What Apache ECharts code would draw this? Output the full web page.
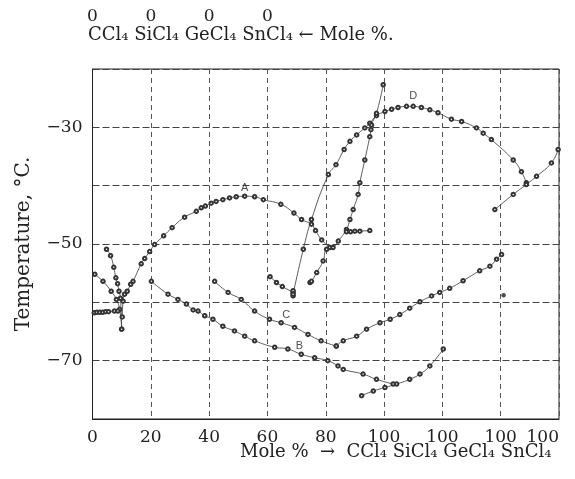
<!DOCTYPE html>
<html>
<head>
<meta charset="utf-8">
<script src="https://cdn.jsdelivr.net/npm/echarts@6/dist/echarts.min.js"></script>
<style>
  html, body { margin: 0; padding: 0; background: #fff; }
  #chart { width: 575px; height: 479px; }
</style>
</head>
<body>
<div id="chart"></div>
<script>
// tick labels
var bottomLabels = ['0', '20', '40', '60', '80', '100', '100', '100', '100']
var topLabels = ['0', '0', '0', '0']
var yTickValues = [-30, -50, -70]
var yTickText = ['\u221230', '\u221250', '\u221270']

// freezing point curves, [x, temperature]
var leftFilled = [[0.8, -55.2], [3.6, -56.4], [6.4, -58.1], [8.2, -59.5], [9.3, -61.2], [10, -64.6]]
var leftOpen = [[4.8, -50.9], [6.2, -52], [7.3, -54], [8, -55.8], [8.6, -56.8], [9.1, -58.1], [9.6, -59.3], [10, -64.6]]
var leftFlat = [[0.6, -61.8], [1.5, -61.7], [2.5, -61.7], [3.5, -61.7], [4.5, -61.6], [5.5, -61.6], [7.5, -61.5], [8.7, -61.5]]
var curveA = [[10.2, -62.5], [10.5, -59.8], [11, -58.6], [11.9, -58.1], [13.1, -56.9], [13.9, -56.4], [16.7, -53.4],
  [17.9, -52.5], [19.6, -51.3], [21.3, -50.1], [24.4, -48.6], [27.3, -47.2], [31.6, -45.4],
  [35.6, -44.4], [37.3, -43.8], [38.7, -43.5], [40.7, -43.0], [42.4, -42.7], [44.7, -42.4], [47.0, -42.1],
  [49.3, -41.9], [52.2, -41.8], [55.6, -41.9], [58.6, -42.4], [64.6, -43.2], [69.1, -44.7], [71.7, -45.8],
  [75.1, -46.6], [76.5, -47.7], [78.6, -49.3], [81.4, -50.6]]
var curveB = [[20.2, -56.4], [25.9, -58.6], [29.3, -59.5], [32.2, -60.3], [34.5, -61.3], [36.2, -61.5], [38.5, -62.3],
  [41.3, -62.9], [44.7, -64.1], [48.7, -64.9], [52.2, -65.8], [55.6, -66.6], [62.5, -67.7], [67, -68],
  [71.6, -68.9], [76.2, -69.5], [80.7, -70.0], [84.2, -70.9], [86, -71.5], [92.8, -72.3], [97.4, -73.2], [103.1, -74.0]]
var curveC = [[41.9, -56.4], [46.5, -58.3], [51, -59.5], [55.6, -61.5], [60.7, -62.9], [64.7, -63.5], [69.3, -64.3],
  [73.9, -65.5], [78.4, -66.6], [83.6, -67.5]]
var riseC = [[83.6, -67.5], [86, -66.6], [90.6, -65.8], [94, -64.6], [98.6, -63.5], [102.1, -62.9], [105.4, -62.1],
  [108.8, -61], [112.3, -59.9], [116.3, -58.9], [119.1, -58.3], [122.5, -57.6], [127.1, -56.3], [132.8, -54.6],
  [136.3, -53.8], [138.6, -52.6], [140.3, -51.8]]
var preD = [[60.9, -55.6], [63.1, -56.6], [65.1, -57.3], [68.8, -58.3], [68.8, -58.0], [68.8, -58.9]]
var curveD = [[68.8, -58.6], [72.3, -50.9], [75.1, -45.8], [80.9, -38.1], [83.5, -36.4], [86.3, -33.8], [88.3, -32.4], [90.6, -31.3],
  [93.4, -30.1], [95.1, -29.3], [97.4, -28], [100.3, -27.3], [102.6, -26.9], [104.8, -26.6], [107.7, -26.4],
  [110, -26.4], [112.8, -26.6], [115.7, -27], [118.5, -27.5], [123.1, -28.6], [126.6, -29.0], [131.7, -30.1],
  [134, -31], [136.8, -32.1], [144.3, -35.6], [147.1, -37.6], [148.8, -39.5]]
var steep = [[74.6, -56.6], [75.1, -56.4], [76.9, -54.9], [79.1, -52.9], [80.3, -50.9], [82.5, -50.6], [84.3, -49.5],
  [87.1, -47.5], [88.3, -45.8], [89.4, -44.1], [91.1, -41.5], [91.7, -39.5], [93.4, -35.6], [95.1, -31.6],
  [95.5, -30.4], [95.7, -29.6], [97.4, -27.6], [99.7, -22.7]]
var midFlat = [[87.1, -47.9], [88.5, -47.9], [90, -47.8], [91.7, -47.8], [95.1, -47.7]]
var rightRise = [[138, -44.1], [144.3, -41.5], [148.8, -39.8], [152.3, -38.4], [157.4, -36.1], [159.7, -33.8]]
var lowRise = [[92.3, -76], [96.3, -75.2], [100.3, -74.6], [104.3, -74], [108.8, -73.2], [112.3, -72.3], [115.7, -70.9], [120.3, -68]]
var filledPts = [[0.8, -55.2], [3.6, -56.4], [0.6, -61.8], [4.8, -50.9], [6.2, -52], [11, -58.6], [13.1, -56.9],
  [31.6, -45.4], [52.2, -41.8], [90.6, -31.3], [91.7, -39.5], [38.5, -62.3], [108.8, -73.2], [141, -58.8]]
var curveNames = ['A', 'B', 'C', 'D']
var namePos = [[52.2, -40.4], [71, -67.4], [66.4, -62.2], [110, -24.6]]

var ink = '#222'
var serif = 'DejaVu Serif'

function lineSeries(data, smooth) {
  return {
    type: 'line',
    data: data,
    smooth: smooth,
    symbol: 'emptyCircle',
    symbolSize: 3.5,
    showSymbol: true,
    lineStyle: { color: '#333', width: 0.8 },
    itemStyle: { color: '#333', borderColor: '#333', borderWidth: 0.9 },
    silent: true,
    animation: false
  }
}

var chart = echarts.init(document.getElementById('chart'), null, { renderer: 'canvas' })
var option = {
  backgroundColor: '#fff',
  grid: {
    left: 92.5, right: 16, top: 69, bottom: 60, outerBoundsMode: 'none',
    show: true, borderColor: ink, borderWidth: 1
  },
  xAxis: [
    {
      type: 'value', min: 0, max: 160, interval: 20,
      axisLine: { show: true, lineStyle: { color: ink } },
      axisTick: { show: false },
      splitLine: { show: true, lineStyle: { color: '#555', type: [5, 4], width: 1 } },
      axisLabel: {
        margin: 10, color: ink, fontFamily: serif, fontSize: 17, alignMaxLabel: 'right',
        formatter: function (v) { return bottomLabels[Math.round(v / 20)] }
      },
      name: 'Mole %  \u2192  CCl\u2084 SiCl\u2084 GeCl\u2084 SnCl\u2084',
      nameLocation: 'middle', nameGap: 24, nameMoveOverlap: false,
      nameTextStyle: { color: ink, fontFamily: serif, fontSize: 18, padding: [0, 0, 0, 140] }
    },
    {
      type: 'value', min: 0, max: 160, interval: 20, position: 'top',
      axisLine: { show: false }, axisTick: { show: false }, splitLine: { show: false },
      axisLabel: {
        margin: 44, color: ink, fontFamily: serif, fontSize: 17,
        formatter: function (v) { return topLabels[Math.round(v / 20)] || '' }
      },
      name: 'CCl\u2084 SiCl\u2084 GeCl\u2084 SnCl\u2084 \u2190 Mole %.',
      nameLocation: 'middle', nameGap: 25, nameMoveOverlap: false,
      nameTextStyle: { color: ink, fontFamily: serif, fontSize: 18, padding: [0, 170, 0, 0] }
    }
  ],
  yAxis: {
    type: 'value', min: -80, max: -20, interval: 10,
    axisLine: { show: true, lineStyle: { color: ink } },
    axisTick: { show: false },
    splitLine: { show: true, lineStyle: { color: '#444', type: [7, 3], width: 1 } },
    axisLabel: {
      margin: 10, color: ink, fontFamily: serif, fontSize: 17,
      formatter: function (v) {
        var i = yTickValues.indexOf(v)
        return i < 0 ? '' : yTickText[i]
      }
    },
    name: 'Temperature, \u00b0C.',
    nameLocation: 'middle', nameGap: 59, nameMoveOverlap: false,
    nameTextStyle: { color: ink, fontFamily: serif, fontSize: 20 }
  },
  series: [
    lineSeries(leftFilled, true),
    lineSeries(leftOpen, true),
    lineSeries(leftFlat, false),
    lineSeries(curveA, true),
    lineSeries(curveB, true),
    lineSeries(curveC, true),
    lineSeries(riseC, true),
    lineSeries(preD, false),
    lineSeries(curveD, true),
    lineSeries(steep, true),
    lineSeries(midFlat, false),
    lineSeries(rightRise, true),
    lineSeries(lowRise, true),
    {
      type: 'scatter', data: filledPts, symbol: 'circle', symbolSize: 4.5,
      itemStyle: { color: ink }, silent: true, animation: false
    },
    {
      type: 'scatter', symbolSize: 0, silent: true, animation: false,
      data: curveNames.map(function (n, i) { return { name: n, value: namePos[i] } }),
      label: {
        show: true, position: 'inside', formatter: '{b}',
        color: ink, fontFamily: 'Liberation Sans', fontSize: 11
      }
    }
  ]
}
chart.setOption(option)
</script>
</body>
</html>
